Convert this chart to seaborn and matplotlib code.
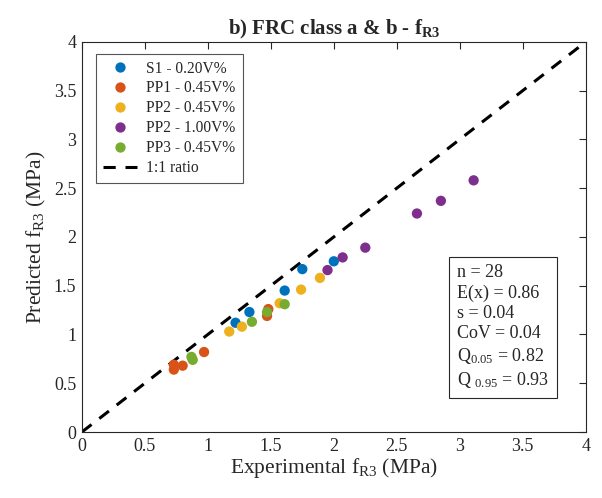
import matplotlib
matplotlib.use("Agg")
import matplotlib.pyplot as plt
import seaborn as sns
import pandas as pd

# ---- data ----
series_labels = ["S1 - 0.20V%", "PP1 - 0.45V%", "PP2 - 0.45V%", "PP2 - 1.00V%", "PP3 - 0.45V%"]
colors = ["#0072BD", "#D95319", "#EDB120", "#7E2F8E", "#77AC30"]

s1_x = [1.22, 1.33, 1.61, 1.75, 2.00]
s1_y = [1.12, 1.23, 1.45, 1.67, 1.75]
pp1_x = [0.73, 0.73, 0.80, 0.97, 1.47, 1.48]
pp1_y = [0.69, 0.64, 0.68, 0.82, 1.19, 1.26]
pp2a_x = [1.17, 1.27, 1.57, 1.74, 1.89]
pp2a_y = [1.03, 1.08, 1.32, 1.46, 1.58]
pp2b_x = [1.95, 2.07, 2.25, 2.66, 2.85, 3.11]
pp2b_y = [1.66, 1.79, 1.89, 2.24, 2.37, 2.58]
pp3_x = [0.87, 0.88, 1.35, 1.47, 1.61]
pp3_y = [0.77, 0.74, 1.13, 1.23, 1.31]

ratio_x = [0, 4]
ratio_y = [0, 4]

stats_text = ("n = 28\nE(x) = 0.86\ns = 0.04\nCoV = 0.04\n"
              "Q$_{0.05}$ = 0.82\nQ $_{0.95}$ = 0.93")

xs = [s1_x, pp1_x, pp2a_x, pp2b_x, pp3_x]
ys = [s1_y, pp1_y, pp2a_y, pp2b_y, pp3_y]
rows = []
for lab, xv, yv in zip(series_labels, xs, ys):
    for a, b in zip(xv, yv):
        rows.append({"x": a, "y": b, "series": lab})
df = pd.DataFrame(rows)

sns.set_theme(style="white")
plt.rcParams["font.family"] = ["Liberation Serif", "DejaVu Serif"]
plt.rcParams["mathtext.fontset"] = "custom"
plt.rcParams["mathtext.rm"] = "Liberation Serif"
plt.rcParams["mathtext.it"] = "Liberation Serif:italic"
plt.rcParams["mathtext.bf"] = "Liberation Serif:bold"

fig = plt.figure(figsize=(6.02, 4.98), dpi=100)
ax = fig.add_axes([0.136, 0.1325, 0.837, 0.7835])

sns.scatterplot(data=df, x="x", y="y", hue="series", hue_order=series_labels,
                palette=colors, s=55, edgecolor="none", ax=ax, zorder=3)
ax.plot(ratio_x, ratio_y, color="black", lw=2.2, ls=(0, (4, 3.2)), label="1:1 ratio", zorder=2)

ticks = [0, 0.5, 1, 1.5, 2, 2.5, 3, 3.5, 4]
tick_labels = ["0", "0.5", "1", "1.5", "2", "2.5", "3", "3.5", "4"]
ax.set_xlim(0, 4)
ax.set_ylim(0, 4)
ax.set_xticks(ticks)
ax.set_yticks(ticks)
ax.set_xticklabels(tick_labels)
ax.set_yticklabels(tick_labels)
ax.tick_params(direction="in", length=5, width=0.8, labelsize=13, top=True, right=True,
               colors="#262626", labelcolor="#262626", pad=4)
for sp in ax.spines.values():
    sp.set_color("#262626")
    sp.set_linewidth(0.8)

ax.set_xlabel("Experimental f$_{\\mathrm{R3}}$ (MPa)", fontsize=15.5, color="#262626", labelpad=1)
ax.set_ylabel("Predicted f$_{\\mathrm{R3}}$ (MPa)", fontsize=15.5, color="#262626", labelpad=4)
ax.set_title("b) FRC class a & b - f$_{\\mathbf{R3}}$", fontsize=15, fontweight="bold", pad=5)

h, l = ax.get_legend_handles_labels()
leg = ax.legend(h, l, loc="upper left", bbox_to_anchor=(0.012, 0.99), fontsize=11.2,
                frameon=True, fancybox=False, edgecolor="#555555", framealpha=1,
                handlelength=2.2, handletextpad=0.6, labelspacing=0.25, borderpad=0.45,
                markerscale=1.0)
leg.get_frame().set_linewidth(0.8)

ax.text(0.745, 0.43, stats_text, transform=ax.transAxes, fontsize=13, va="top", ha="left",
        linespacing=1.25,
        bbox=dict(boxstyle="square,pad=0.45", facecolor="white", edgecolor="#262626", linewidth=0.8))

fig.savefig("out.png", dpi=100)
